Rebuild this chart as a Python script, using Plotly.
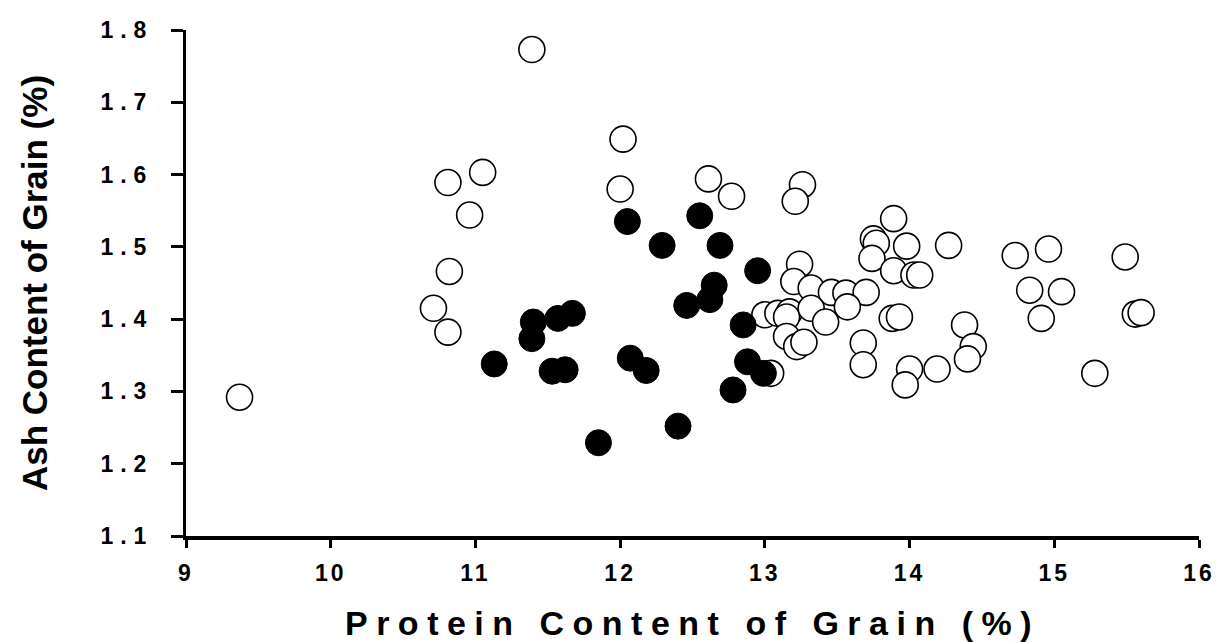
import plotly.graph_objects as go

# Open circles
open_x = [11.39, 12.02, 10.81, 11.05, 10.96, 12.00, 12.61, 12.77, 10.82, 10.71,
          10.81, 9.37, 13.26, 13.21, 13.89, 13.75, 13.77, 13.98, 14.27, 13.74,
          13.89, 14.03, 14.07, 13.24, 13.20, 13.32, 13.46, 13.56, 13.70, 13.00,
          13.09, 13.17, 13.15, 13.32, 13.57, 13.42, 13.15, 13.22, 13.27, 13.68,
          13.68, 13.88, 13.93, 14.38, 14.44, 14.40, 14.00, 14.19, 13.97, 14.73,
          14.96, 15.49, 14.83, 15.05, 14.91, 15.56, 15.60, 15.28, 13.04]
open_y = [1.773, 1.649, 1.589, 1.603, 1.544, 1.580, 1.594, 1.570, 1.466, 1.415,
          1.382, 1.292, 1.586, 1.563, 1.539, 1.511, 1.505, 1.501, 1.502, 1.484,
          1.467, 1.461, 1.461, 1.476, 1.452, 1.443, 1.437, 1.436, 1.437, 1.406,
          1.408, 1.410, 1.403, 1.415, 1.417, 1.396, 1.376, 1.362, 1.368, 1.367,
          1.337, 1.401, 1.403, 1.392, 1.362, 1.345, 1.331, 1.331, 1.309, 1.488,
          1.497, 1.486, 1.440, 1.438, 1.401, 1.407, 1.409, 1.325, 1.325]

# Filled circles
filled_x = [12.05, 12.55, 12.29, 12.69, 12.95, 12.65, 12.62, 12.46, 12.85, 11.40,
            11.57, 11.67, 11.39, 11.13, 11.53, 11.62, 12.07, 12.18, 11.85, 12.40,
            12.88, 12.99, 12.78]
filled_y = [1.535, 1.543, 1.502, 1.502, 1.467, 1.447, 1.427, 1.419, 1.392, 1.396,
            1.401, 1.408, 1.373, 1.338, 1.328, 1.330, 1.346, 1.329, 1.229, 1.252,
            1.341, 1.325, 1.302]

x_ticks = [9, 10, 11, 12, 13, 14, 15, 16]
y_ticks = [1.1, 1.2, 1.3, 1.4, 1.5, 1.6, 1.7, 1.8]
y_tick_labels = ["1.1", "1.2", "1.3", "1.4", "1.5", "1.6", "1.7", "1.8"]

FONT = "Arial, 'Liberation Sans', sans-serif"

fig = go.Figure()
fig.add_trace(go.Scatter(
    x=open_x, y=open_y, mode="markers", name="open",
    marker=dict(symbol="circle", size=26, color="white",
                line=dict(color="black", width=1.6)),
    showlegend=False, cliponaxis=False))
fig.add_trace(go.Scatter(
    x=filled_x, y=filled_y, mode="markers", name="filled",
    marker=dict(symbol="circle", size=26, color="black",
                line=dict(color="black", width=1)),
    showlegend=False, cliponaxis=False))

fig.update_layout(
    width=1217, height=642,
    margin=dict(l=186, r=18, t=30, b=106, autoexpand=False),
    paper_bgcolor="white", plot_bgcolor="white",
    font=dict(family=FONT, color="black"),
    xaxis=dict(
        range=[9, 16], tickvals=x_ticks, ticktext=[str(v) for v in x_ticks],
        showgrid=False, zeroline=False, showline=True, linecolor="black", linewidth=4,
        ticks="outside", ticklen=8, tickwidth=3, tickcolor="black",
        tickfont=dict(size=23, family=FONT, weight="bold"),
        ticklabelstandoff=5, automargin=False,
        title=dict(text="Protein Content of Grain (%)",
                   font=dict(size=34, family=FONT, weight="bold"), standoff=30),
    ),
    yaxis=dict(
        range=[1.1, 1.8], tickvals=y_ticks, ticktext=y_tick_labels,
        showgrid=False, zeroline=False, showline=True, linecolor="black", linewidth=3,
        ticks="outside", ticklen=12, tickwidth=3, tickcolor="black",
        tickfont=dict(size=23, family=FONT, weight="bold"),
        ticklabelstandoff=13, automargin=False,
        title=dict(text="Ash Content of Grain (%)",
                   font=dict(size=35, family=FONT, weight="bold"), standoff=64),
    ),
)

post = """
var s = document.createElement('style');
s.innerHTML = 'html,body{margin:0;padding:0;} .xtitle{letter-spacing:8.5px;} .xtick text{letter-spacing:3px;} .ytick text{letter-spacing:7px;}';
document.head.appendChild(s);
"""

fig.write_html("out.html", post_script=post, config={"displayModeBar": False})
